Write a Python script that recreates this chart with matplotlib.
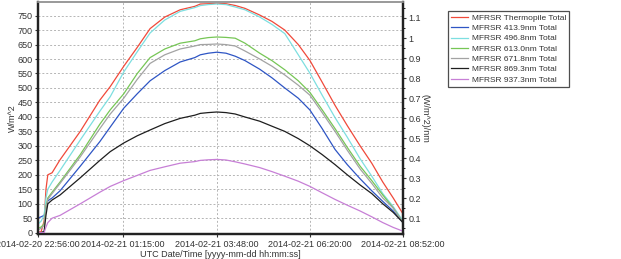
"""
MFRSR irradiance plot, 2014-02-20/21.
"""
import numpy as np
import pandas as pd
import matplotlib
matplotlib.use("Agg")
import matplotlib.pyplot as plt
import matplotlib.dates as mdates
from matplotlib import ticker

plt.rcParams['font.family'] = ['Liberation Sans', 'DejaVu Sans']

times = ["2014-02-20 22:56", "2014-02-20 23:01", "2014-02-20 23:06", "2014-02-20 23:09",
         "2014-02-20 23:12", "2014-02-20 23:19", "2014-02-20 23:32", "2014-02-21 00:05",
         "2014-02-21 00:37", "2014-02-21 00:54", "2014-02-21 01:16", "2014-02-21 01:38",
         "2014-02-21 01:59", "2014-02-21 02:23", "2014-02-21 02:48", "2014-02-21 03:12",
         "2014-02-21 03:21", "2014-02-21 03:34", "2014-02-21 03:48", "2014-02-21 04:03",
         "2014-02-21 04:18", "2014-02-21 04:34", "2014-02-21 04:58", "2014-02-21 05:18",
         "2014-02-21 05:39", "2014-02-21 06:01", "2014-02-21 06:20", "2014-02-21 06:40",
         "2014-02-21 07:01", "2014-02-21 07:21", "2014-02-21 07:42", "2014-02-21 08:01",
         "2014-02-21 08:19", "2014-02-21 08:36", "2014-02-21 08:52"]

# left axis, W/m^2
thermopile = [2, 3, 40, 150, 200, 207, 252, 350, 458, 505, 575, 640, 705, 745, 770, 782, 790, 791,
              793, 791, 785, 775, 752, 730, 700, 650, 595, 520, 440, 370, 300, 240, 175, 120, 65]

# right axis, (W/m^2)/nm
ch_413 = [0.099, 0.106, 0.113, 0.142, 0.186, 0.200, 0.236, 0.359, 0.482, 0.555, 0.649, 0.721,
          0.786, 0.837, 0.880, 0.902, 0.916, 0.924, 0.929, 0.924, 0.909, 0.887, 0.844, 0.801,
          0.750, 0.699, 0.640, 0.547, 0.443, 0.367, 0.296, 0.236, 0.183, 0.135, 0.077]
ch_496 = [0.070, 0.084, 0.113, 0.200, 0.244, 0.280, 0.338, 0.490, 0.634, 0.707, 0.830, 0.931,
          1.025, 1.090, 1.133, 1.152, 1.162, 1.167, 1.170, 1.167, 1.155, 1.141, 1.105, 1.068,
          1.022, 0.916, 0.824, 0.714, 0.602, 0.504, 0.396, 0.309, 0.222, 0.157, 0.085]
ch_613 = [0.048, 0.055, 0.070, 0.157, 0.200, 0.229, 0.280, 0.417, 0.569, 0.641, 0.721, 0.822,
          0.902, 0.945, 0.974, 0.986, 0.996, 1.002, 1.005, 1.003, 0.999, 0.974, 0.924, 0.887,
          0.841, 0.786, 0.728, 0.641, 0.547, 0.453, 0.359, 0.287, 0.215, 0.150, 0.077]
ch_671 = [0.041, 0.048, 0.063, 0.150, 0.193, 0.222, 0.273, 0.406, 0.547, 0.620, 0.699, 0.793,
          0.873, 0.916, 0.945, 0.960, 0.967, 0.968, 0.970, 0.967, 0.960, 0.935, 0.895, 0.859,
          0.815, 0.764, 0.714, 0.627, 0.533, 0.439, 0.345, 0.273, 0.200, 0.150, 0.077]
ch_869 = [0.027, 0.027, 0.034, 0.113, 0.171, 0.190, 0.215, 0.301, 0.388, 0.432, 0.475, 0.511,
          0.540, 0.572, 0.598, 0.614, 0.623, 0.627, 0.630, 0.627, 0.620, 0.605, 0.584, 0.559,
          0.533, 0.497, 0.461, 0.417, 0.367, 0.316, 0.265, 0.222, 0.171, 0.128, 0.077]
ch_937 = [0.027, 0.027, 0.027, 0.055, 0.077, 0.099, 0.113, 0.171, 0.229, 0.258, 0.287, 0.313,
          0.338, 0.356, 0.374, 0.382, 0.388, 0.391, 0.393, 0.390, 0.381, 0.370, 0.352, 0.332,
          0.309, 0.284, 0.258, 0.226, 0.193, 0.164, 0.135, 0.106, 0.077, 0.053, 0.034]

tick_times = ["2014-02-20 22:56:00", "2014-02-21 01:15:00", "2014-02-21 03:48:00",
              "2014-02-21 06:20:00", "2014-02-21 08:52:00"]

t = pd.to_datetime(times)
tt = pd.to_datetime(tick_times)

fig = plt.figure(figsize=(6.21, 2.59), dpi=100)
ax = fig.add_axes([38 / 621, 25 / 259, 365 / 621, 232 / 259])
ax2 = ax.twinx()

h = []
h += ax.plot(t, thermopile, color="#f0493a", lw=0.9, label="MFRSR Thermopile Total")
h += ax2.plot(t, ch_413, color="#2e55c4", lw=0.9, label="MFRSR 413.9nm Total")
h += ax2.plot(t, ch_496, color="#7ddfe0", lw=0.9, label="MFRSR 496.8nm Total")
h += ax2.plot(t, ch_613, color="#76c655", lw=0.9, label="MFRSR 613.0nm Total")
h += ax2.plot(t, ch_671, color="#a3a3a3", lw=0.9, label="MFRSR 671.8nm Total")
h += ax2.plot(t, ch_869, color="#1e1e1e", lw=0.9, label="MFRSR 869.3nm Total")
h += ax2.plot(t, ch_937, color="#c77fd6", lw=0.9, label="MFRSR 937.3nm Total")

ax.set_xlim(tt[0], tt[-1])
ax.set_ylim(-4.5, 797)
ax2.set_ylim(0.02, 1.18)

ax.set_xticks(tt)
ax.xaxis.set_major_formatter(mdates.DateFormatter("%Y-%m-%d %H:%M:%S"))
ax.set_yticks(np.arange(0, 751, 50))
ax2.set_yticks(np.arange(0.1, 1.15, 0.1))
ax2.yaxis.set_major_formatter(ticker.FuncFormatter(lambda v, p: "{:g}".format(round(v, 2))))
ax2.yaxis.set_minor_locator(ticker.MultipleLocator(0.05))

ax.tick_params(labelsize=6.5, length=2.5, colors="#333333", pad=1.5)
ax2.tick_params(labelsize=6.5, length=2.5, colors="#333333", pad=1.5)
ax2.tick_params(which="minor", length=1.5)

ax.grid(True, linestyle=(0, (2, 2)), color="#b5b5b5", lw=0.7)
ax.set_axisbelow(True)

ax.set_xlabel("UTC Date/Time [yyyy-mm-dd hh:mm:ss]", fontsize=6.5, color="#333333", labelpad=1)
ax.set_ylabel("W/m^2", fontsize=6.5, color="#333333", labelpad=0.5)
ax2.set_ylabel("(W/m^2)/nm", fontsize=6.5, color="#333333", rotation=270, labelpad=6)

for a in (ax, ax2):
    for s in ("left", "right", "bottom"):
        a.spines[s].set_linewidth(1.6)
        a.spines[s].set_color("#222222")
    a.spines["top"].set_linewidth(1.2)
    a.spines["top"].set_color("#999999")

leg = fig.legend(handles=h, loc="upper left", bbox_to_anchor=(448 / 621, 1 - 11 / 259),
                 fontsize=6, frameon=True, fancybox=False, edgecolor="#222222",
                 handlelength=2.1, labelspacing=0.3, borderpad=0.35, handletextpad=0.45,
                 borderaxespad=0)
leg.get_frame().set_linewidth(0.9)
for txt in leg.get_texts():
    txt.set_color("#333333")

fig.savefig("out.png", dpi=100)
